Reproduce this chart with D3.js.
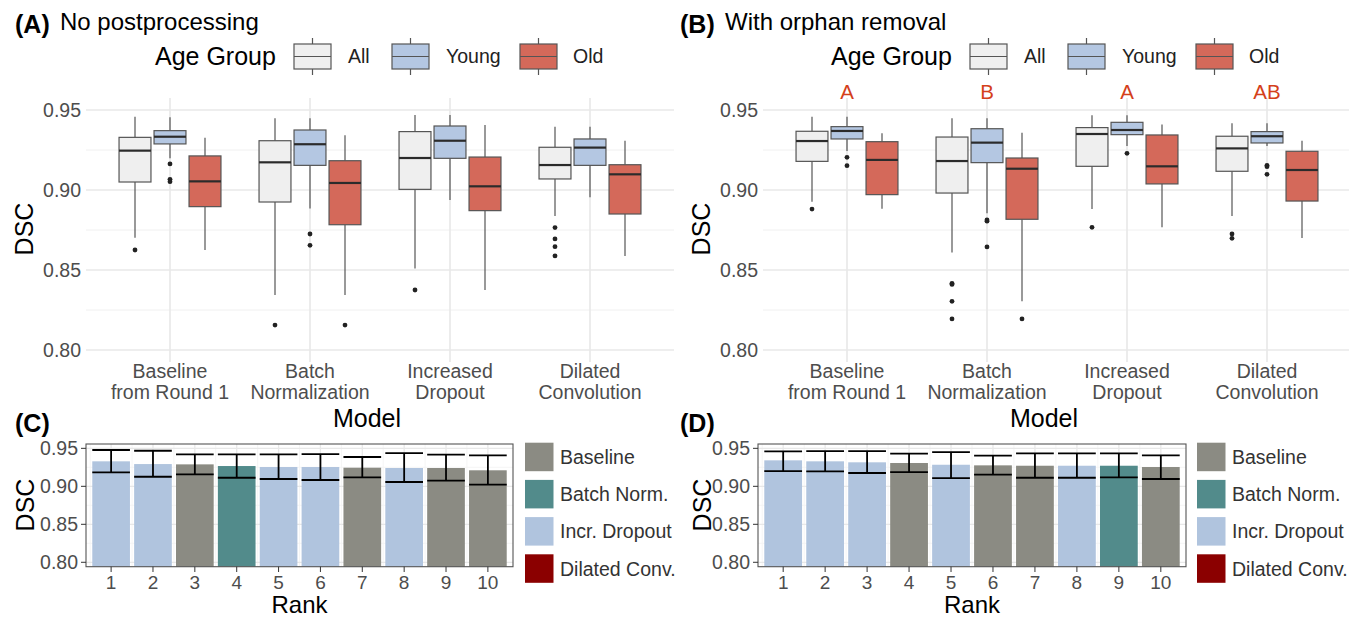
<!DOCTYPE html>
<html>
<head>
<meta charset="utf-8">
<script src="https://cdn.jsdelivr.net/npm/d3@7"></script>
<style>
  body { margin: 0; background: #fff; }
  text { font-family: "Liberation Sans", Arial, Helvetica, sans-serif; }
</style>
</head>
<body>
<svg id="fig" width="1349" height="618"></svg>
<script>
// ---- data ----
var models = [["Baseline", "from Round 1"], ["Batch", "Normalization"], ["Increased", "Dropout"], ["Dilated", "Convolution"]];
var ageGroups = ["All", "Young", "Old"];
var ageColors = ["#efefef", "#b4c7e2", "#d4695a"];

// boxplot stats per model: [lower whisker, q1, median, q3, upper whisker]
var boxA_All   = [[0.8702, 0.9050, 0.9246, 0.9329, 0.9458], [0.8344, 0.8925, 0.9173, 0.9308, 0.9448], [0.8510, 0.9004, 0.9200, 0.9365, 0.9469], [0.8838, 0.9069, 0.9156, 0.9267, 0.9396]];
var boxA_Young = [[0.9198, 0.9288, 0.9333, 0.9371, 0.9454], [0.8885, 0.9154, 0.9286, 0.9375, 0.9448], [0.8938, 0.9198, 0.9308, 0.9400, 0.9469], [0.8954, 0.9154, 0.9265, 0.9319, 0.9396]];
var boxA_Old   = [[0.8625, 0.8896, 0.9054, 0.9213, 0.9327], [0.8344, 0.8783, 0.9044, 0.9183, 0.9342], [0.8375, 0.8871, 0.9023, 0.9206, 0.9406], [0.8588, 0.8850, 0.9098, 0.9158, 0.9308]];
var outA_All   = [[0.8625], [0.8156], [0.8375], [0.8765, 0.8694, 0.8646, 0.8588]];
var outA_Young = [[0.9163, 0.9067, 0.9052], [0.8725, 0.8654], [], []];
var outA_Old   = [[], [0.8156], [], []];

var boxB_All   = [[0.8927, 0.9179, 0.9306, 0.9367, 0.9458], [0.8610, 0.8981, 0.9181, 0.9331, 0.9448], [0.8881, 0.9148, 0.9350, 0.9390, 0.9467], [0.8838, 0.9117, 0.9260, 0.9336, 0.9417]];
var boxB_Young = [[0.9244, 0.9319, 0.9369, 0.9396, 0.9458], [0.8854, 0.9171, 0.9296, 0.9383, 0.9448], [0.9275, 0.9346, 0.9375, 0.9423, 0.9467], [0.9275, 0.9294, 0.9336, 0.9365, 0.9417]];
var boxB_Old   = [[0.8883, 0.8971, 0.9188, 0.9302, 0.9354], [0.8304, 0.8817, 0.9133, 0.9200, 0.9358], [0.8767, 0.9038, 0.9148, 0.9344, 0.9410], [0.8700, 0.8931, 0.9125, 0.9242, 0.9308]];
var outB_All   = [[0.8881], [0.8417, 0.8410, 0.8304, 0.8194], [0.8767], [0.8725, 0.8698]];
var outB_Young = [[0.9204, 0.9152], [0.8813, 0.8805, 0.8644], [0.9229], [0.9154, 0.9146, 0.9098]];
var outB_Old   = [[], [0.8194], [], []];
var lettersB = ["A", "B", "A", "AB"];

var yTicks = [0.80, 0.85, 0.90, 0.95];
var yMinor = [0.825, 0.875, 0.925];

var modelTypes = ["Baseline", "Batch Norm.", "Incr. Dropout", "Dilated Conv."];
var typeColors = ["#8b8b83", "#528b8b", "#b0c4de", "#8b0000"];
var ranks = [1, 2, 3, 4, 5, 6, 7, 8, 9, 10];

var rankC_model = ["Incr. Dropout", "Incr. Dropout", "Baseline", "Batch Norm.", "Incr. Dropout", "Incr. Dropout", "Baseline", "Incr. Dropout", "Baseline", "Baseline"];
var rankC_mean = [0.9329, 0.9293, 0.9289, 0.9267, 0.9254, 0.9254, 0.9245, 0.9241, 0.9241, 0.9211];
var rankC_lo   = [0.9184, 0.9126, 0.9158, 0.9113, 0.9096, 0.9083, 0.9118, 0.9057, 0.9074, 0.9021];
var rankC_hi   = [0.9478, 0.9468, 0.9421, 0.9421, 0.9421, 0.9425, 0.9386, 0.9438, 0.9416, 0.9408];

var rankD_model = ["Incr. Dropout", "Incr. Dropout", "Incr. Dropout", "Baseline", "Incr. Dropout", "Baseline", "Baseline", "Incr. Dropout", "Batch Norm.", "Baseline"];
var rankD_mean = [0.9342, 0.9329, 0.9316, 0.9307, 0.9284, 0.9276, 0.9271, 0.9271, 0.9271, 0.9254];
var rankD_lo   = [0.9201, 0.9197, 0.9175, 0.9188, 0.9109, 0.9153, 0.9113, 0.9113, 0.9118, 0.9096];
var rankD_hi   = [0.9461, 0.9464, 0.9464, 0.9429, 0.9451, 0.9403, 0.9434, 0.9434, 0.9434, 0.9408];

var svg = d3.select("#fig");
var tickCol = "#4d4d4d";

function boxPanel(o) {
  var g = svg.append("g");
  var x = d3.scaleLinear().domain([0.4, 4.6]).range([o.x0, o.x1]);
  var y = d3.scaleLinear().domain([0.7925, 0.9575]).range([362, 98]);
  var step = x(2) - x(1);

  // grid
  g.selectAll(".minor").data(yMinor).join("line")
    .attr("x1", o.x0).attr("x2", o.x1).attr("y1", y).attr("y2", y)
    .attr("stroke", "#f0f0f0").attr("stroke-width", 1);
  g.selectAll(".major").data(yTicks).join("line")
    .attr("x1", o.x0).attr("x2", o.x1).attr("y1", y).attr("y2", y)
    .attr("stroke", "#e8e8e8").attr("stroke-width", 1.6);
  g.selectAll(".vgrid").data(models).join("line")
    .attr("x1", (d, i) => x(i + 1)).attr("x2", (d, i) => x(i + 1))
    .attr("y1", 98).attr("y2", 362)
    .attr("stroke", "#e8e8e8").attr("stroke-width", 1.6);

  // y tick labels
  g.selectAll(".ylab").data(yTicks).join("text")
    .attr("x", o.x0 - 5).attr("y", d => y(d)).attr("dy", "0.36em")
    .attr("text-anchor", "end").attr("font-size", 19.5).attr("fill", tickCol)
    .text(d => d.toFixed(2));

  // x tick labels
  models.forEach(function (lines, i) {
    var t = g.append("text").attr("text-anchor", "middle").attr("font-size", 19.5).attr("fill", tickCol);
    lines.forEach(function (s, k) {
      t.append("tspan").attr("x", x(i + 1)).attr("y", 378 + k * 21).text(s);
    });
  });

  // axis titles
  g.append("text").attr("x", o.modelX).attr("y", 427).attr("text-anchor", "middle")
    .attr("font-size", 25).text("Model");
  g.append("text").attr("transform", "translate(" + o.dscX + ",229) rotate(-90)")
    .attr("text-anchor", "middle").attr("font-size", 25).text("DSC");

  // boxes
  var bw = 0.228 * step;
  o.boxes.forEach(function (grp, gi) {
    grp.forEach(function (s, mi) {
      var cx = x(mi + 1) + (gi - 1) * 0.25 * step;
      var bg = g.append("g");
      bg.append("line").attr("x1", cx).attr("x2", cx).attr("y1", y(s[4])).attr("y2", y(s[3]))
        .attr("stroke", "#555").attr("stroke-width", 1.2);
      bg.append("line").attr("x1", cx).attr("x2", cx).attr("y1", y(s[1])).attr("y2", y(s[0]))
        .attr("stroke", "#555").attr("stroke-width", 1.2);
      bg.append("rect").attr("x", cx - bw / 2).attr("width", bw)
        .attr("y", y(s[3])).attr("height", y(s[1]) - y(s[3]))
        .attr("fill", ageColors[gi]).attr("stroke", "#555").attr("stroke-width", 1.2);
      bg.append("line").attr("x1", cx - bw / 2).attr("x2", cx + bw / 2).attr("y1", y(s[2])).attr("y2", y(s[2]))
        .attr("stroke", "#2b2b2b").attr("stroke-width", 2.2);
      bg.selectAll("circle").data(o.outliers[gi][mi]).join("circle")
        .attr("cx", cx).attr("cy", d => y(d)).attr("r", 2.4).attr("fill", "#222");
    });
  });

  // significance letters
  if (o.letters) {
    g.selectAll(".let").data(o.letters).join("text")
      .attr("x", (d, i) => x(i + 1)).attr("y", 99).attr("text-anchor", "middle")
      .attr("font-size", 20.5).attr("fill", "#d4401a").text(d => d);
  }

  // title
  g.append("text").attr("x", o.tagX).attr("y", 33).attr("font-size", 25).attr("font-weight", "bold").text(o.tag);
  g.append("text").attr("x", o.tagX + 45).attr("y", 30).attr("font-size", 24).text(o.title);

  // age group legend
  var lg = g.append("g").attr("transform", "translate(" + o.legX + ",0)");
  lg.append("text").attr("x", 0).attr("y", 65).attr("font-size", 25).text("Age Group");
  var keyX = [139, 237, 365], labX = [193, 291, 418];
  ageGroups.forEach(function (a, i) {
    var kx = keyX[i];
    lg.append("line").attr("x1", kx + 18.5).attr("x2", kx + 18.5).attr("y1", 38).attr("y2", 75)
      .attr("stroke", "#555").attr("stroke-width", 1.2);
    lg.append("rect").attr("x", kx).attr("y", 44).attr("width", 37).attr("height", 25)
      .attr("fill", ageColors[i]).attr("stroke", "#555").attr("stroke-width", 1.2);
    lg.append("line").attr("x1", kx).attr("x2", kx + 37).attr("y1", 56.5).attr("y2", 56.5)
      .attr("stroke", "#555").attr("stroke-width", 1.2);
    lg.append("text").attr("x", labX[i]).attr("y", 63).attr("font-size", 19.5).attr("fill", "#222").text(a);
  });
}

function barPanel(o) {
  var g = svg.append("g");
  var x = d3.scaleLinear().domain([0.4, 10.6]).range([o.x0, o.x1]);
  var y = d3.scaleLinear().domain([0.7942, 0.9557]).range([566.7, 444]);
  var color = d3.scaleOrdinal().domain(modelTypes).range(typeColors);
  var unit = x(2) - x(1);

  g.append("rect").attr("x", o.x0).attr("y", 444).attr("width", o.x1 - o.x0).attr("height", 122.7).attr("fill", "#fff");
  var halfRanks = ranks.map(r => r + 0.5).slice(0, 9).concat([0.5]);
  g.selectAll(".xminor").data(halfRanks).join("line")
    .attr("x1", x).attr("x2", x).attr("y1", 444).attr("y2", 566.7)
    .attr("stroke", "#f2f2f2").attr("stroke-width", 0.8);
  g.selectAll(".yminor").data(yMinor).join("line")
    .attr("x1", o.x0).attr("x2", o.x1).attr("y1", y).attr("y2", y)
    .attr("stroke", "#f2f2f2").attr("stroke-width", 0.8);
  g.selectAll(".xmajor").data(ranks).join("line")
    .attr("x1", x).attr("x2", x).attr("y1", 444).attr("y2", 566.7)
    .attr("stroke", "#e8e8e8").attr("stroke-width", 1.3);
  g.selectAll(".ymajor").data(yTicks).join("line")
    .attr("x1", o.x0).attr("x2", o.x1).attr("y1", y).attr("y2", y)
    .attr("stroke", "#e8e8e8").attr("stroke-width", 1.3);

  // bars
  g.selectAll(".bar").data(ranks).join("rect")
    .attr("x", d => x(d) - 0.45 * unit).attr("width", 0.9 * unit)
    .attr("y", (d, i) => y(o.mean[i])).attr("height", (d, i) => 566.7 - y(o.mean[i]))
    .attr("fill", (d, i) => color(o.model[i]));

  // error bars
  ranks.forEach(function (r, i) {
    var cx = x(r), hw = 0.45 * unit;
    var eg = g.append("g").attr("stroke", "#000").attr("stroke-width", 1.8);
    eg.append("line").attr("x1", cx).attr("x2", cx).attr("y1", y(o.hi[i])).attr("y2", y(o.lo[i]));
    eg.append("line").attr("x1", cx - hw).attr("x2", cx + hw).attr("y1", y(o.hi[i])).attr("y2", y(o.hi[i]));
    eg.append("line").attr("x1", cx - hw).attr("x2", cx + hw).attr("y1", y(o.lo[i])).attr("y2", y(o.lo[i]));
  });

  g.append("rect").attr("x", o.x0).attr("y", 444).attr("width", o.x1 - o.x0).attr("height", 122.7)
    .attr("fill", "none").attr("stroke", "#555").attr("stroke-width", 1.1);

  // axes
  g.selectAll(".yt").data(yTicks).join("line")
    .attr("x1", o.x0 - 5).attr("x2", o.x0).attr("y1", y).attr("y2", y).attr("stroke", "#333");
  g.selectAll(".yl").data(yTicks).join("text")
    .attr("x", o.x0 - 8).attr("y", y).attr("dy", "0.36em").attr("text-anchor", "end")
    .attr("font-size", 19.5).attr("fill", tickCol).text(d => d.toFixed(2));
  g.selectAll(".xt").data(ranks).join("line")
    .attr("x1", x).attr("x2", x).attr("y1", 566.7).attr("y2", 572).attr("stroke", "#333");
  g.selectAll(".xl").data(ranks).join("text")
    .attr("x", x).attr("y", 589).attr("text-anchor", "middle")
    .attr("font-size", 19).attr("fill", tickCol).text(d => d);

  g.append("text").attr("x", (o.x0 + o.x1) / 2).attr("y", 613).attr("text-anchor", "middle")
    .attr("font-size", 24).text("Rank");
  g.append("text").attr("transform", "translate(" + o.dscX + ",505) rotate(-90)")
    .attr("text-anchor", "middle").attr("font-size", 25).text("DSC");
  g.append("text").attr("x", o.tagX).attr("y", 432).attr("font-size", 25).attr("font-weight", "bold").text(o.tag);

  // legend
  modelTypes.forEach(function (m, i) {
    var ky = 442.7 + i * 37.2;
    g.append("rect").attr("x", o.legX).attr("y", ky).attr("width", 28.5).attr("height", 28.5)
      .attr("fill", typeColors[i]);
    g.append("text").attr("x", o.legX + 35).attr("y", ky + 14.2).attr("dy", "0.36em")
      .attr("font-size", 19.5).attr("fill", "#333").text(m);
  });
}

boxPanel({ x0: 86, x1: 674, tag: "(A)", tagX: 15, title: "No postprocessing", legX: 155, modelX: 367, dscX: 33,
  boxes: [boxA_All, boxA_Young, boxA_Old], outliers: [outA_All, outA_Young, outA_Old] });
boxPanel({ x0: 763, x1: 1351, tag: "(B)", tagX: 680, title: "With orphan removal", legX: 831, modelX: 1044, dscX: 710,
  boxes: [boxB_All, boxB_Young, boxB_Old], outliers: [outB_All, outB_Young, outB_Old], letters: lettersB });

barPanel({ x0: 86, x1: 513, tag: "(C)", tagX: 15, dscX: 34, legX: 525,
  model: rankC_model, mean: rankC_mean, lo: rankC_lo, hi: rankC_hi });
barPanel({ x0: 758, x1: 1186, tag: "(D)", tagX: 680, dscX: 711, legX: 1197,
  model: rankD_model, mean: rankD_mean, lo: rankD_lo, hi: rankD_hi });
</script>
</body>
</html>
